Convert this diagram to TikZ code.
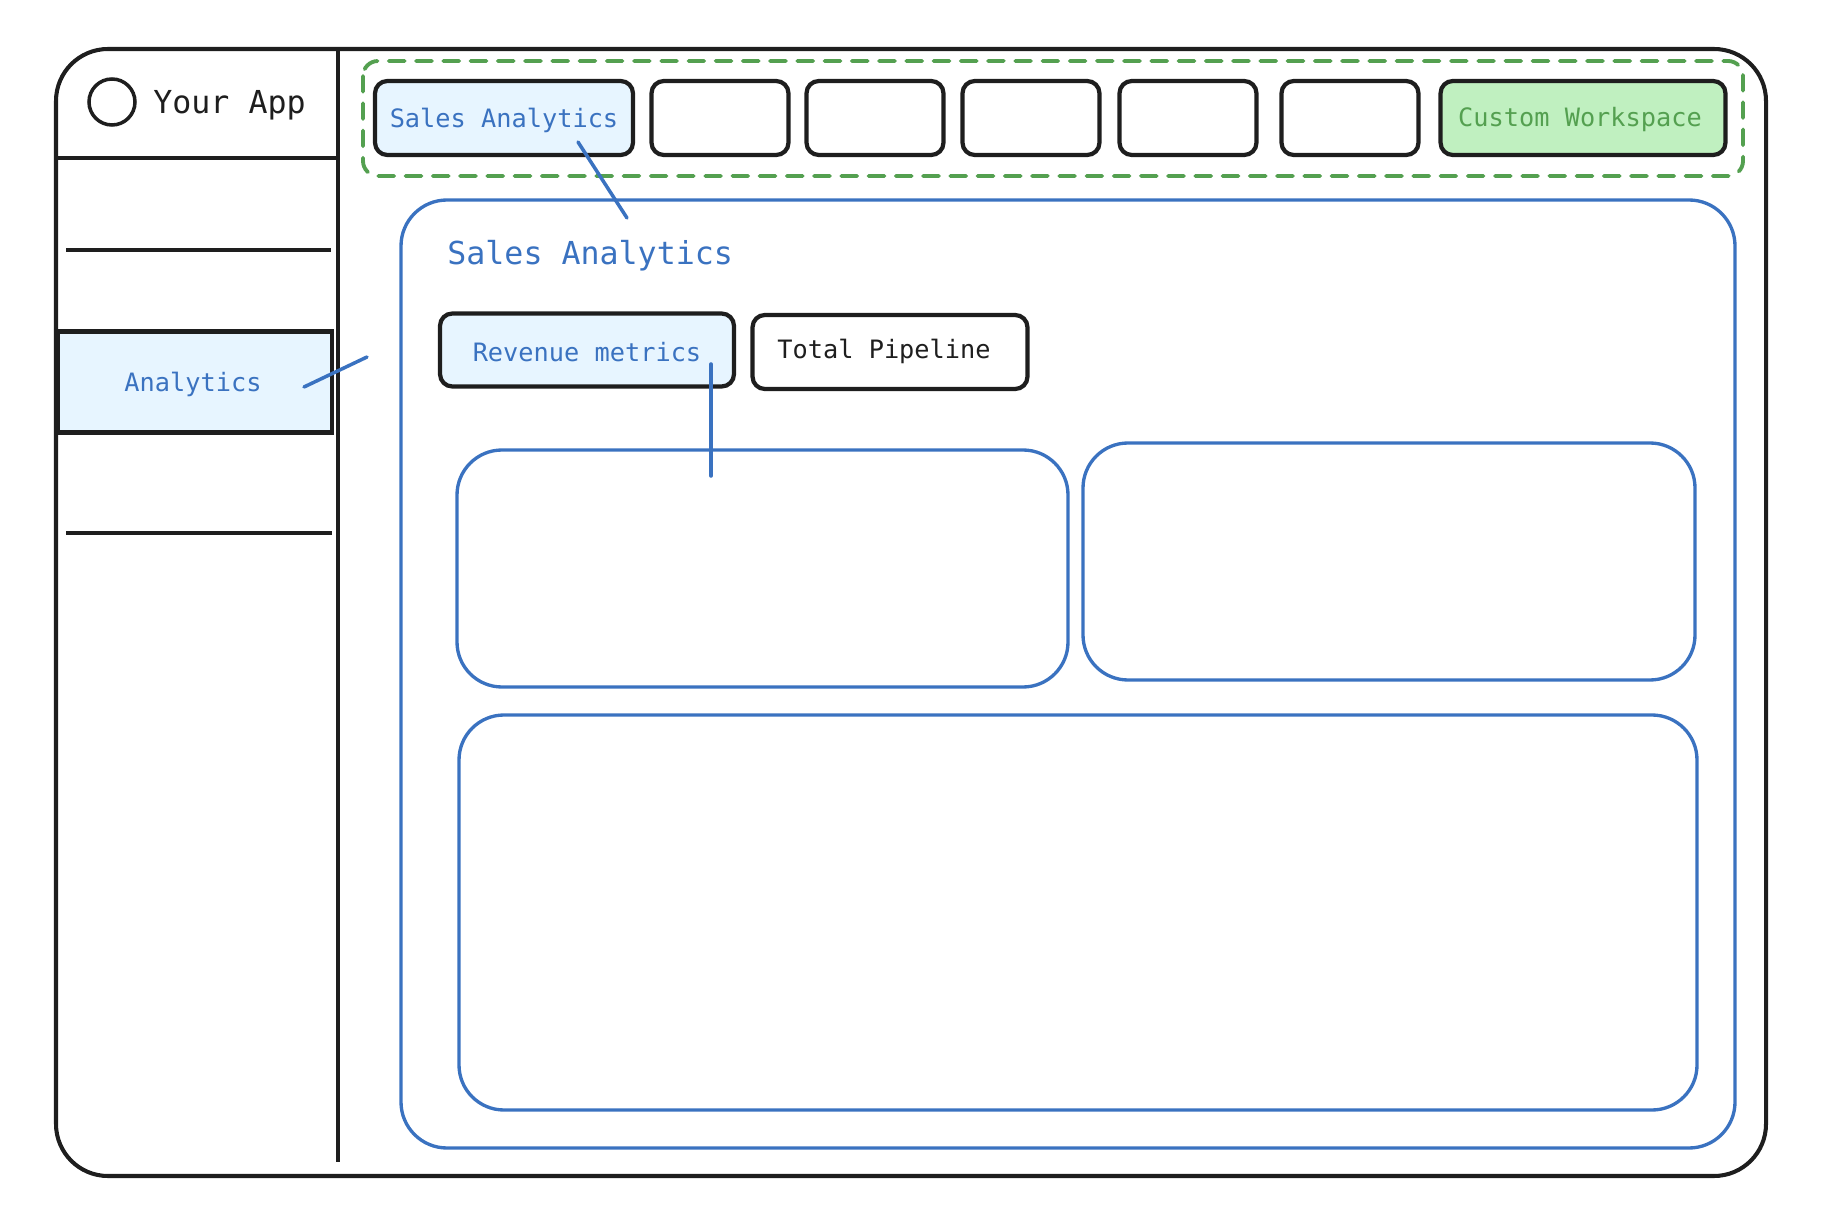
\documentclass[tikz,border=0pt]{standalone}
\usepackage{fontspec}
\setmonofont{DejaVu Sans Mono}
\usetikzlibrary{positioning}
\definecolor{inkblack}{RGB}{30,30,30}
\definecolor{inkblue}{RGB}{58,114,192}
\definecolor{fillblue}{RGB}{231,245,255}
\definecolor{inkgreen}{RGB}{84,160,80}
\definecolor{fillgreen}{RGB}{192,240,192}

\begin{document}
\begin{tikzpicture}[x=0.02cm,y=-0.02cm]
	\tikzstyle{tab} = [draw=inkblack,line width=2.4pt,rounded corners=7pt,minimum height=1.48cm,inner sep=0pt]
	\tikzstyle{card} = [draw=inkblue,line width=1.9pt,rounded corners=0.9cm]
	\tikzstyle{label} = [font=\ttfamily\fontsize{14.4}{16}\selectfont,inner sep=0pt]
	\tikzstyle{link} = [draw=inkblue,line width=2pt,line cap=round]

	\useasboundingbox (0,0) rectangle (1822,1222);

	% window frame and sidebar
	\draw[inkblack,line width=2.3pt,rounded corners=1.04cm] (56,49) rectangle (1766,1176);
	\draw[inkblack,line width=2.3pt] (338,49) -- (338,1162);
	\draw[inkblack,line width=2.3pt] (56,158) -- (338,158);
	\draw[inkblack,line width=2.6pt] (66,250) -- (331,250);
	\draw[inkblack,line width=2.6pt] (66,533) -- (332,533);

	\node[draw=inkblack,line width=2pt,circle,minimum size=0.92cm,inner sep=0pt] at (112,102) (logo) {};
	\node[font=\ttfamily\fontsize{18}{20}\selectfont,text=inkblack,anchor=west,inner sep=0pt] at (153,105) (appname) {Your App};

	\node[draw=inkblack,line width=2.4pt,fill=fillblue,minimum width=5.48cm,minimum height=2.02cm] at (195,382) (navitem) {};
	\node[label,text=inkblue] at (193,384) (navlabel) {Analytics};

	% tab strip
	\draw[inkgreen,line width=2.2pt,dash pattern=on 9pt off 6.5pt,line cap=round,rounded corners=0.3cm] (363,61) rectangle (1743,176);
	\node[tab,fill=fillblue,minimum width=5.16cm] at (504,118) (tabsales) {};
	\node[label,text=inkblue] at (504,120) (tabsaleslabel) {Sales Analytics};
	\foreach \cx [count=\i] in {720,875,1031,1188,1350}
		\node[tab,minimum width=2.74cm] at (\cx,118) (tab\i) {};
	\node[tab,fill=fillgreen,minimum width=5.7cm] at (1583,118) (tabcustom) {};
	\node[label,text=inkgreen] at (1580,120) (tabcustomlabel) {Custom Workspace};

	% workspace
	\draw[card,rounded corners=0.92cm] (401,200) rectangle (1735,1148);
	\node[font=\ttfamily\fontsize{18}{20}\selectfont,text=inkblue,anchor=west,inner sep=0pt] at (447,256) (heading) {Sales Analytics};

	\node[tab,fill=fillblue,minimum width=5.88cm,minimum height=1.46cm] at (587,350) (subrevenue) {};
	\node[label,text=inkblue] at (587,352) (subrevenuelabel) {Revenue metrics};
	\node[tab,minimum width=5.5cm] at (890,352) (subpipeline) {};
	\node[label,text=inkblack] at (884,351) (subpipelinelabel) {Total Pipeline};

	\draw[card] (457,450) rectangle (1068,687);
	\draw[card] (1083,443) rectangle (1695,680);
	\draw[card] (459,715) rectangle (1697,1110);

	% pointer strokes
	\coordinate (navtip) at (304,387);
	\coordinate (navend) at (367,357);
	\coordinate (tabtip) at (578,142);
	\coordinate (tabend) at (627,218);
	\coordinate (subtip) at (711,364);
	\coordinate (subend) at (711,476);
	\draw[link] (navtip) -- (navend);
	\draw[link] (tabtip) -- (tabend);
	\draw[link] (subtip) -- (subend);
\end{tikzpicture}
\end{document}
